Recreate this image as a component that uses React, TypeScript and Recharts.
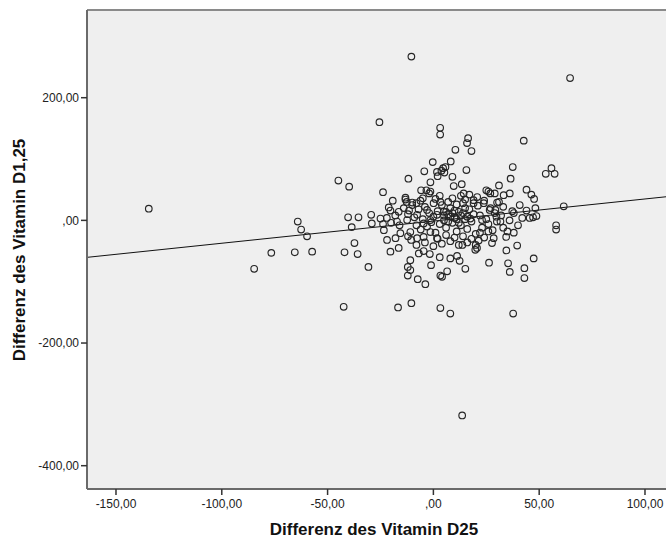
import { ScatterChart, Scatter, XAxis, YAxis, CartesianGrid, ReferenceLine } from "recharts";

// Differenz des Vitamin D25 (x) / Differenz des Vitamin D1,25 (y)
const outerX = [
    -134.5, -10.4, 64.6, -25.5, 3.2, 3.2, 16.4, 15.9, 18, 10.4, 42.7, -0.3, 8.2, -4.3, 4.6, 5.7, 15.6, -11.8,
    -44.9, -39.8, -23.8, -19.2, -64.1, -62.5, -59.7, -40.3, -35.4, -29.4, -29.1, -38.6, -37.3, -25, -23.8, -21.1,
    -20.3, -13.2, -12.6, -11.5, 37.5, 36.5, 31, 44, 46.3, 47.6, 40.8, 53.1, 55.8, 57.3, 61.6, 48.2, 45.5, 47.1,
    48.7, 58, 58, 36.1, 33.2, 26.9, 25, 20.7, 37.3, 34.4, 39.6, 28.5, 27.7, 21.4, 31.7, 29.3, 30.1, 13.7,
    5.2, 9, 13.4, 9.6, 26, 29, 14.3, 19, 23.8, 26.6, 29.8, 23, 17.5, 1.7, 3.8, 2, -1.4, -5.8, -3.3, -1.4,
    -13.2, -10, -6.1, -16.4, -17.2, -12.4, -7.7, -3, 0.1, 3.3, -1.4, 1.7, 4.9, -4.6, -42, -35.8, -30.7, -23.4,
    -21.9, -20.3, -17.9, -16.4, -15.6, -10.9, -12.1, -10.9, -12.1, -7.4, -3.8, -6.9, -4.6, -1.7, -1.1, 3, 3.3,
    -10.5, -10.9, -7.7, -4.6, -1.4, 1.7, -42.4, -16.7, -10.4, 3.3, 34.5, 47.4, 26.3, 35.3, 36.1, 43, 43, 19.8,
    20.6, 12.4, 15.1, 6.5, 4.1, 8, 11.2, 8, 37.7, -76.6, -65.5, -57.3, -84.7, 13.6,
];
const outerY = [
    19, 267, 232, 160, 151, 140, 134, 126, 113, 115, 130, 95, 96, 80, 85, 87, 82, 68,
    65, 55, 46, 32, -2, -15, -26, 5, 5, 9, -5, -11, -37, 3, -6, 21,
    16, 37, 30, 16, 87, 68, 57, 50, 42, 35, 25, 76, 85, 76, 23, 20, 4, 5,
    7, -8, -15, 44, 41, 44, 49, 38, 15, -27, -41, -29, -37, -33, -2, 17, 29, -40,
    78, 71, 59, 56, 47, 44, 44, 33, 28, 17, 6, 0.5, 3, 79, 81, 72, 62, 49, 49, 47,
    34, 29, 32, 14, -2, 0.5, 9, 17, 28, 30, 0.5, 9, 14, -5, -52, -55, -76, -16,
    -32, -51, -29, -45, -21, -65, -76, -81, -90, -96, -104, -54, -50, -55, -73, -60, -90,
    -32, -19, -29, -27, -19, -29, -141, -142, -135, -143, -49, -62, -69, -70, -84, -78, -94, -48,
    -45, -66, -79, -83, -92, -62, -58, -152, -152, -53, -52, -51, -79, -318,
];

// the dense middle of the cloud
const coreX = [
    -14, -12, -10, -9, -8, -7, -6, -5, -4, -3, -2, -1, 0, 1, 2, 3, 4, 5, 6, 7, 8, 9, 10, 11, 12, 13, 14, 15,
    16, 17, 18, 19, 20, 21, 22, 23, 24, 25, 26, 27, 28, 29, 30, 31, 32, 33,
    5, 6, 7, 8, 9, 10, 11, 12, 13, 14, 15, 16, 7, 9, 11, 13, 15, 17, 19, 3, 1, -2, -5, -8,
    2, 4, 6, 8, 10, 12, 14, 16, 18, 20, 22, 24, 26, 0, -4, -8, -12, -16, -18, -20, -22,
    36, 38, 40, 42, 44, 35, 33, 38,
];
const coreY = [
    20, 10, 25, 5, -8, 18, -15, 2, 22, -10, 12, -3, 6, -20, 15, -6, 25, 0, -12, 10, 20, -4, 4, -18, 14, -8, 28, 2,
    -14, 18, -2, 10, -22, 24, 8, -12, 32, 2, -6, 20, -16, 12, -2, 30, 8, -12,
    8, 14, -2, 6, 12, 16, 2, -4, 8, 12, 20, 6, 30, 36, 26, 40, 34, 42, 28, 40, 35, 44, 36, 28,
    -30, -38, -24, -34, -28, -40, -26, -36, -30, -40, -20, -28, -18, -42, -36, -40, -26, -8, 8, -4, 4,
    0, 12, -8, 4, 16, -18, 22, -20,
];

// linear fit drawn through the cloud
const fitIntercept = -1.2;
const fitSlope = 0.361;

const X_DOMAIN: [number, number] = [-163.7, 126];
const Y_DOMAIN: [number, number] = [-438, 343];
const xTicks = [-150, -100, -50, 0, 50, 100];
const yTicks = [-400, -200, 0, 200];

const points = [
    ...outerX.map((x, i) => ({ x, y: outerY[i] })),
    ...coreX.map((x, i) => ({ x, y: coreY[i] })),
];

const fmt = (v: number) => (v === 0 ? ",00" : v.toFixed(2).replace(".", ","));

const font = "'Liberation Sans', Arial, sans-serif";

function Ring(props: any) {
    const { cx, cy } = props;
    if (cx == null || cy == null) return null;
    return <circle cx={cx} cy={cy} r={3.3} fill="none" stroke="#262626" strokeWidth={1.15} />;
}

export default function App() {
    const fitLine = [
        { x: X_DOMAIN[0], y: fitIntercept + fitSlope * X_DOMAIN[0] },
        { x: X_DOMAIN[1], y: fitIntercept + fitSlope * X_DOMAIN[1] },
    ];

    return (
        <div
            style={{
                position: "absolute",
                left: 0,
                top: 0,
                width: 666,
                height: 543,
                overflow: "hidden",
                background: "#fff",
                fontFamily: font,
            }}
        >
            <ScatterChart width={720} height={543} margin={{ top: 10, right: 20, bottom: 24, left: 0 }}>
                <CartesianGrid horizontal={false} vertical={false} fill="#efefef" fillOpacity={1} />
                <XAxis
                    type="number"
                    dataKey="x"
                    domain={X_DOMAIN}
                    ticks={xTicks}
                    tickFormatter={fmt}
                    allowDataOverflow
                    height={30}
                    tickSize={6}
                    tickMargin={4}
                    axisLine={{ stroke: "#6a6a6a", strokeWidth: 2 }}
                    tickLine={{ stroke: "#333", strokeWidth: 1.5 }}
                    tick={{ fill: "#222", fontSize: 12, fontFamily: font }}
                />
                <YAxis
                    type="number"
                    dataKey="y"
                    domain={Y_DOMAIN}
                    ticks={yTicks}
                    tickFormatter={fmt}
                    allowDataOverflow
                    width={87}
                    tickSize={6}
                    tickMargin={2}
                    axisLine={{ stroke: "#6a6a6a", strokeWidth: 2 }}
                    tickLine={{ stroke: "#333", strokeWidth: 1.5 }}
                    tick={{ fill: "#222", fontSize: 12, fontFamily: font }}
                />
                <ReferenceLine y={Y_DOMAIN[1]} stroke="#8a8a8a" strokeWidth={2} />
                <ReferenceLine segment={fitLine} stroke="#111" strokeWidth={1} ifOverflow="hidden" />
                <Scatter data={points} shape={<Ring />} isAnimationActive={false} />
            </ScatterChart>
            <div
                style={{
                    position: "absolute",
                    left: 374 - 130,
                    top: 520,
                    width: 260,
                    textAlign: "center",
                    fontSize: 17,
                    fontWeight: "bold",
                    color: "#111",
                    whiteSpace: "nowrap",
                }}
            >
                Differenz des Vitamin D25
            </div>
            <div
                style={{
                    position: "absolute",
                    left: 20 - 140,
                    top: 250 - 10,
                    width: 280,
                    textAlign: "center",
                    fontSize: 17,
                    fontWeight: "bold",
                    color: "#111",
                    whiteSpace: "nowrap",
                    transform: "rotate(-90deg)",
                }}
            >
                Differenz des Vitamin D1,25
            </div>
        </div>
    );
}
